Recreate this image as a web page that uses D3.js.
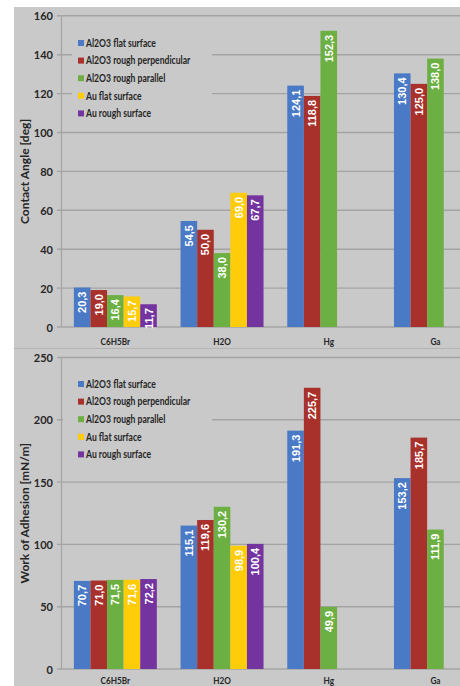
<!DOCTYPE html>
<html>
<head>
<meta charset="utf-8">
<script src="https://cdn.jsdelivr.net/npm/d3@7"></script>
<style>
  html, body { margin: 0; padding: 0; background: #ffffff; }
  svg { display: block; }
</style>
</head>
<body>
<svg id="chart" width="460" height="686"></svg>
<script>
// Liquids tested and the five surface types
const categories = ["C6H5Br", "H2O", "Hg", "Ga"];
const seriesNames = [
  "Al2O3 flat surface",
  "Al2O3 rough perpendicular",
  "Al2O3 rough parallel",
  "Au flat surface",
  "Au rough surface"
];
const seriesColors = ["#4a79c6", "#a8312b", "#6cb043", "#ffcc0a", "#7434a0"];

// Contact angle [deg], one array per surface (null = not measured)
const angleAl2O3Flat  = [20.3, 54.5, 124.1, 130.4];
const angleAl2O3Perp  = [19.0, 50.0, 118.8, 125.0];
const angleAl2O3Par   = [16.4, 38.0, 152.3, 138.0];
const angleAuFlat     = [15.7, 69.0, null, null];
const angleAuRough    = [11.7, 67.7, null, null];

// Work of adhesion [mN/m]
const workAl2O3Flat = [70.7, 115.1, 191.3, 153.2];
const workAl2O3Perp = [71.0, 119.6, 225.7, 185.7];
const workAl2O3Par  = [71.5, 130.2, 49.9, 111.9];
const workAuFlat    = [71.6, 98.9, null, null];
const workAuRough   = [72.2, 100.4, null, null];

const angleTicks = [0, 20, 40, 60, 80, 100, 120, 140, 160];
const workTicks  = [0, 50, 100, 150, 200, 250];

const BG = "#c9c9c9";
const GRID = "#a4a4a4";
const TEXT = "#262626";
const LABEL_FONT = "Lato, 'Open Sans', sans-serif";
const VALUE_FONT = "'Liberation Sans', Arial, sans-serif";

const svg = d3.select("#chart");

// Grey chart canvas
svg.append("rect").attr("x", 14).attr("y", 7).attr("width", 446).attr("height", 679).attr("fill", BG);

function drawChart(opts) {
  const g = svg.append("g");
  const series = opts.values.map((vals, i) => ({ name: seriesNames[i], color: seriesColors[i], vals }));

  const y = d3.scaleLinear().domain([0, opts.max]).range([opts.y0, opts.y1]);
  const x0 = d3.scaleBand().domain(categories).range([62, 488.8]);
  const x1 = d3.scaleBand().domain(seriesNames).range([0, x0.bandwidth()]).paddingOuter(0.715);

  // Horizontal gridlines with short tick stubs left of the axis
  g.selectAll(".grid").data(opts.ticks).join("line")
    .attr("x1", 57).attr("x2", 460)
    .attr("y1", d => y(d)).attr("y2", d => y(d))
    .attr("stroke", GRID).attr("stroke-width", 1.4);

  // Value axis line
  g.append("line")
    .attr("x1", 61.5).attr("x2", 61.5)
    .attr("y1", y(opts.max)).attr("y2", y(0))
    .attr("stroke", GRID).attr("stroke-width", 1.2);

  // Tick labels
  g.selectAll(".tick").data(opts.ticks).join("text")
    .attr("x", 53).attr("y", d => y(d))
    .attr("text-anchor", "end").attr("dominant-baseline", "central")
    .attr("font-family", LABEL_FONT).attr("font-weight", 700).attr("font-size", 11)
    .attr("fill", TEXT)
    .text(d => d);

  // Axis title
  g.append("text")
    .attr("transform", `translate(24,${(y(0) + y(opts.max)) / 2}) rotate(-90)`)
    .attr("text-anchor", "middle").attr("dominant-baseline", "central")
    .attr("font-family", LABEL_FONT).attr("font-weight", 700).attr("font-size", 12)
    .attr("fill", TEXT)
    .text(opts.title);

  // Category labels (narrow bold face)
  g.selectAll(".cat").data(categories).join("text")
    .attr("transform", d => `translate(${x0(d) + x0.bandwidth() / 2},${opts.catY}) scale(0.82,1)`)
    .attr("text-anchor", "middle").attr("dominant-baseline", "central")
    .attr("font-family", LABEL_FONT).attr("font-weight", 700).attr("font-size", 10)
    .attr("fill", TEXT)
    .text(d => d);

  // Legend on a background patch that hides the gridlines behind it
  const lg = opts.legend;
  g.append("rect").attr("x", lg.x0).attr("y", lg.y0).attr("width", lg.w).attr("height", lg.h).attr("fill", BG);
  const items = g.selectAll(".leg").data(series).join("g")
    .attr("transform", (d, i) => `translate(78,${lg.first + i * lg.step})`);
  items.append("rect").attr("x", 0).attr("y", -3).attr("width", 6).attr("height", 6).attr("fill", d => d.color);
  items.append("text")
    .attr("transform", "translate(8,0) scale(0.82,1)")
    .attr("dominant-baseline", "central")
    .attr("font-family", LABEL_FONT).attr("font-weight", 700).attr("font-size", 10.5)
    .attr("fill", TEXT)
    .text(d => d.name);

  // Bars
  const fmt = v => d3.format(".1f")(v).replace(".", ",");
  const groups = g.selectAll(".ser").data(series).join("g");
  const bars = groups.selectAll("g").data(s => s.vals.map((v, j) => ({ v, cat: categories[j], s })).filter(d => d.v != null))
    .join("g");
  bars.append("rect")
    .attr("x", d => x0(d.cat) + x1(d.s.name))
    .attr("width", x1.bandwidth())
    .attr("y", d => y(d.v))
    .attr("height", d => y(0) - y(d.v))
    .attr("fill", d => d.s.color);

  // Value labels inside the top of each bar, reading upward
  bars.append("text")
    .attr("transform", d => `translate(${x0(d.cat) + x1(d.s.name) + x1.bandwidth() / 2},${y(d.v) + 4}) rotate(-90)`)
    .attr("text-anchor", "end").attr("dominant-baseline", "central")
    .attr("font-family", VALUE_FONT).attr("font-weight", 700).attr("font-size", 11)
    .attr("fill", "#ffffff")
    .text(d => fmt(d.v));
}

drawChart({
  values: [angleAl2O3Flat, angleAl2O3Perp, angleAl2O3Par, angleAuFlat, angleAuRough],
  max: 160, y0: 327, y1: 15.8, ticks: angleTicks,
  title: "Contact Angle [deg]", catY: 341.5,
  legend: { x0: 72, y0: 33, w: 140, h: 90, first: 43, step: 17.6 }
});

// Divider between the two panels
svg.append("line").attr("x1", 14).attr("x2", 460).attr("y1", 348.5).attr("y2", 348.5)
  .attr("stroke", "#b4b4b4").attr("stroke-width", 1);

drawChart({
  values: [workAl2O3Flat, workAl2O3Perp, workAl2O3Par, workAuFlat, workAuRough],
  max: 250, y0: 669, y1: 357.5, ticks: workTicks,
  title: "Work of Adhesion [mN/m]", catY: 680,
  legend: { x0: 63, y0: 373, w: 149, h: 90, first: 384, step: 17.6 }
});
</script>
</body>
</html>
